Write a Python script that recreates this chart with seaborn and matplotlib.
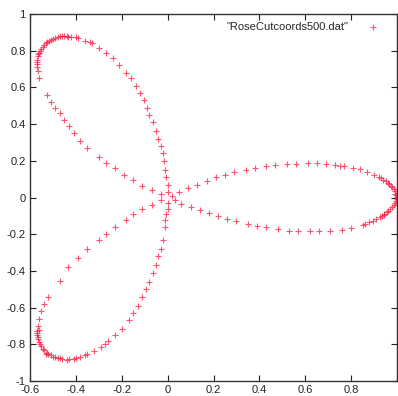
import numpy as np
import pandas as pd
import matplotlib
matplotlib.use("Agg")
import matplotlib.pyplot as plt
import seaborn as sns

# points, petal by petal
right_x = [0.02, 0.05, 0.09, 0.13, 0.17, 0.21, 0.25, 0.29, 0.34, 0.38, 0.43, 0.47, 0.52, 0.56,
           0.61, 0.65, 0.69, 0.73, 0.77, 0.81, 0.84, 0.87, 0.9, 0.93, 0.95, 0.965, 0.98, 0.99,
           0.997, 1.0, 0.96, 0.975, 0.985, 0.993, 0.999, 0.996, 0.985, 0.962, 0.945,
           0.998, 0.99, 0.98, 0.97, 0.955, 0.935, 0.91, 0.88, 0.85, 0.8, 0.76, 0.71, 0.66,
           0.62, 0.57, 0.53, 0.48, 0.43, 0.39, 0.35, 0.3, 0.26, 0.22, 0.18, 0.14, 0.1, 0.06, 0.03,
           0.92, 0.94, 0.895, 0.925, 0.945, 0.75, 0.86]
right_y = [0.01, 0.03, 0.05, 0.07, 0.09, 0.11, 0.125, 0.14, 0.15, 0.16, 0.17, 0.175, 0.182, 0.185,
           0.188, 0.186, 0.182, 0.178, 0.17, 0.162, 0.155, 0.14, 0.125, 0.105, 0.09, 0.075, 0.055, 0.035,
           0.015, 0.0, 0.08, 0.06, 0.045, 0.02, 0.005, -0.02, -0.04, -0.075, -0.09,
           -0.01, -0.03, -0.05, -0.065, -0.08, -0.1, -0.115, -0.135, -0.15, -0.165, -0.175, -0.18, -0.185,
           -0.185, -0.182, -0.18, -0.172, -0.163, -0.155, -0.145, -0.13, -0.115, -0.1, -0.085, -0.07, -0.05, -0.035, -0.015,
           0.112, 0.097, -0.128, -0.108, -0.093, 0.174, -0.143]

upper_x = [0.0, 0.0, -0.005, -0.01, -0.015, -0.02, -0.03, -0.04, -0.05, -0.065, -0.08, -0.09, -0.105,
           -0.12, -0.14, -0.16, -0.18, -0.21, -0.24, -0.27, -0.3, -0.33, -0.36, -0.39, -0.42, -0.45,
           -0.47, -0.49, -0.51, -0.525, -0.54, -0.55, -0.56, -0.565, -0.57, -0.57, -0.57, -0.565,
           -0.56, -0.5, -0.53, -0.545, -0.555, -0.44, -0.46, -0.48, -0.4,
           -0.527, -0.51, -0.49, -0.47, -0.45, -0.43, -0.41, -0.38, -0.35, -0.3, -0.27, -0.23,
           -0.19, -0.15, -0.11, -0.07, -0.03, -0.568, -0.563, -0.518, -0.435, -0.34]
upper_y = [0.03, 0.07, 0.11, 0.15, 0.2, 0.24, 0.28, 0.32, 0.36, 0.41, 0.45, 0.49, 0.53,
           0.57, 0.61, 0.65, 0.68, 0.72, 0.76, 0.79, 0.815, 0.84, 0.855, 0.87, 0.875, 0.88,
           0.878, 0.87, 0.86, 0.845, 0.83, 0.81, 0.79, 0.77, 0.75, 0.73, 0.71, 0.69,
           0.65, 0.865, 0.84, 0.82, 0.8, 0.882, 0.879, 0.874, 0.872,
           0.556, 0.52, 0.49, 0.46, 0.42, 0.39, 0.35, 0.31, 0.27, 0.22, 0.19, 0.16,
           0.12, 0.095, 0.065, 0.04, 0.018, 0.74, 0.78, 0.852, 0.877, 0.848]

lower_x = [-0.03, -0.07, -0.11, -0.15, -0.18, -0.23, -0.27, -0.3, -0.35, -0.39, -0.435, -0.47,
           -0.52, -0.54, -0.55, -0.56, -0.565, -0.57, -0.57, -0.565, -0.56, -0.55, -0.54, -0.525,
           -0.51, -0.49, -0.47, -0.44, -0.41, -0.38, -0.35, -0.32, -0.29, -0.26, -0.23, -0.2, -0.17,
           -0.15, -0.13, -0.11, -0.095, -0.08, -0.065, -0.05, -0.04, -0.03, -0.02, -0.013, -0.01,
           -0.005, 0.0, 0.0, -0.555, -0.567, -0.562, -0.53, -0.5, -0.46, -0.43, -0.4, -0.52,
           -0.545, -0.57, -0.48, -0.36, -0.275]
lower_y = [-0.015, -0.04, -0.065, -0.09, -0.125, -0.16, -0.2, -0.234, -0.28, -0.33, -0.38, -0.455,
           -0.54, -0.58, -0.62, -0.66, -0.7, -0.73, -0.75, -0.77, -0.79, -0.81, -0.83, -0.845,
           -0.86, -0.87, -0.875, -0.885, -0.878, -0.868, -0.852, -0.835, -0.815, -0.782, -0.75, -0.715, -0.67,
           -0.63, -0.59, -0.54, -0.5, -0.46, -0.41, -0.37, -0.32, -0.28, -0.23, -0.16, -0.12,
           -0.09, -0.06, -0.03, -0.8, -0.76, -0.72, -0.855, -0.87, -0.88, -0.882, -0.874, -0.852,
           -0.823, -0.74, -0.873, -0.86, -0.8]

df = pd.DataFrame({
    "x": right_x + upper_x + lower_x,
    "y": right_y + upper_y + lower_y,
})

sns.set_theme(style="ticks")
plt.rcParams["font.family"] = ["Liberation Sans", "DejaVu Sans"]

fig = plt.figure(figsize=(3.98, 3.96), dpi=100)
ax = fig.add_axes([30 / 398, 15 / 396, 367 / 398, 367 / 396])

sns.scatterplot(data=df, x="x", y="y", ax=ax, marker="+", s=14, color="#ff1a40",
                linewidth=0.8, alpha=0.75, label='"RoseCutcoords500.dat"')

ax.set_xlim(-0.6, 1.0)
ax.set_ylim(-1.0, 1.0)
xt = [-0.6, -0.4, -0.2, 0, 0.2, 0.4, 0.6, 0.8, 1.0]
yt = [-1, -0.8, -0.6, -0.4, -0.2, 0, 0.2, 0.4, 0.6, 0.8, 1]
ax.set_xticks(xt)
ax.set_yticks(yt)
ax.set_xticklabels(["-0.6", "-0.4", "-0.2", "0", "0.2", "0.4", "0.6", "0.8", ""])
ax.set_yticklabels(["-1", "-0.8", "-0.6", "-0.4", "-0.2", "0", "0.2", "0.4", "0.6", "0.8", "1"])
ax.tick_params(direction="in", length=4, width=0.8, top=True, right=True,
               labelsize=8, pad=3, colors="#222222")
ax.set_xlabel("")
ax.set_ylabel("")
for sp in ax.spines.values():
    sp.set_visible(True)
    sp.set_linewidth(1.0)
    sp.set_color("#333333")

ax.legend(loc="upper right", frameon=False, markerfirst=False, fontsize=8,
          handletextpad=1.2, borderaxespad=0.3, bbox_to_anchor=(0.985, 1.0))

fig.savefig("out.png", dpi=100)
